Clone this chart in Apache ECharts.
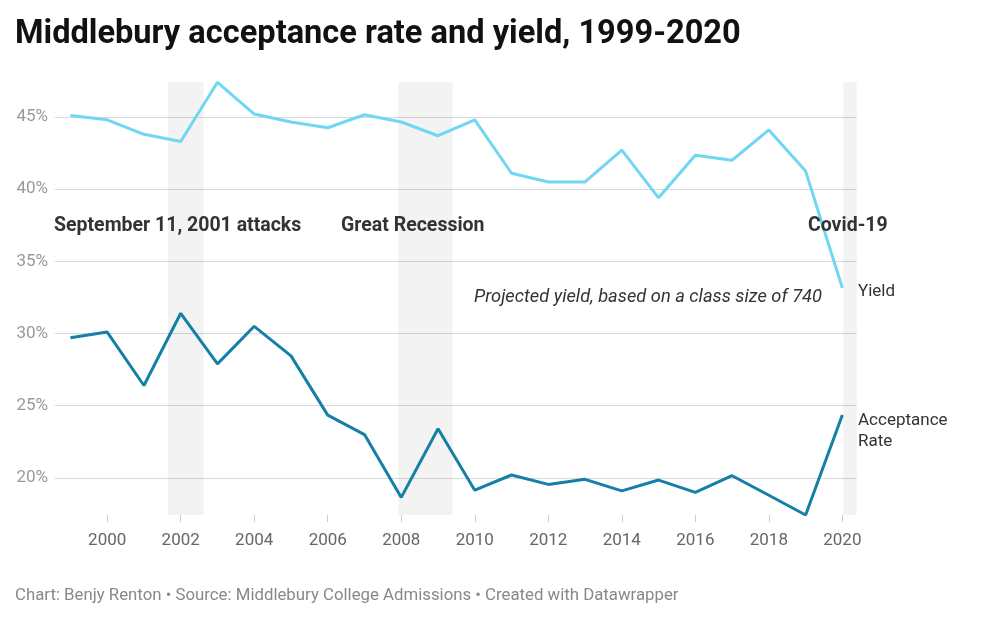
<!DOCTYPE html>
<html>
<head>
<meta charset="utf-8">
<script src="https://cdn.jsdelivr.net/npm/echarts@6/dist/echarts.min.js"></script>
<style>
  html, body { margin: 0; padding: 0; background: #ffffff; }
  #chart { width: 1000px; height: 627px; }
</style>
</head>
<body>
<div id="chart"></div>
<script>
const years = [1999,2000,2001,2002,2003,2004,2005,2006,2007,2008,2009,2010,2011,2012,2013,2014,2015,2016,2017,2018,2019,2020];
const yieldRate = [45.1,44.8,43.8,43.3,47.4,45.2,44.65,44.25,45.15,44.65,43.7,44.8,41.1,40.5,40.5,42.7,39.4,42.35,42.0,44.1,41.25,33.15];
const acceptanceRate = [29.7,30.1,26.4,31.4,27.9,30.5,28.45,24.35,23.0,18.65,23.4,19.15,20.2,19.55,19.9,19.1,19.85,19.0,20.15,18.8,17.43,24.35];
const xTicks = [2000,2002,2004,2006,2008,2010,2012,2014,2016,2018,2020];
const yTicks = [20,25,30,35,40,45];
const events = [
  { name: 'September 11, 2001 attacks', start: 2001.65, end: 2002.62 },
  { name: 'Great Recession', start: 2007.92, end: 2009.4 },
  { name: 'Covid-19', start: 2020.02, end: 2020.39 }
];

const chart = echarts.init(document.getElementById('chart'));
const pair = (arr) => years.map((y, i) => [y, arr[i]]);

const option = {
  backgroundColor: '#ffffff',
  animation: false,
  grid: { left: 55, right: 143.3, top: 82.3, bottom: 112 },
  xAxis: {
    type: 'value',
    min: 1998.58,
    max: 2020.39,
    axisLine: { show: false },
    axisTick: { show: true, customValues: xTicks, length: 7, lineStyle: { color: '#cccccc', width: 1 } },
    axisLabel: { customValues: xTicks, color: '#666666', fontFamily: 'Roboto', fontSize: 17, margin: 17, formatter: v => String(v) },
    splitLine: { show: false }
  },
  yAxis: {
    type: 'value',
    min: 'dataMin',
    max: 'dataMax',
    axisLine: { show: false },
    axisTick: { show: false, customValues: yTicks },
    axisLabel: { customValues: yTicks, color: '#999999', fontFamily: 'Roboto', fontSize: 17, margin: 7, formatter: v => v + '%' },
    splitLine: { show: true, lineStyle: { color: '#d9d9d9', width: 1 } }
  },
  series: [
    {
      name: 'bands',
      type: 'line',
      data: pair(yieldRate),
      symbol: 'none',
      lineStyle: { opacity: 0 },
      silent: true,
      z: 1,
      markArea: {
        silent: true,
        itemStyle: { color: 'rgba(0,0,0,0.048)' },
        data: events.map(e => [{ xAxis: e.start }, { xAxis: e.end }])
      }
    },
    {
      name: 'Yield',
      type: 'line',
      data: pair(yieldRate),
      symbol: 'none',
      lineStyle: { color: '#70d7f3', width: 3 },
      z: 6
    },
    {
      name: 'Acceptance Rate',
      type: 'line',
      data: pair(acceptanceRate),
      symbol: 'none',
      lineStyle: { color: '#1480a6', width: 3 },
      z: 6
    }
  ],
  graphic: [
    { type: 'text', z: 10, left: 15, top: 18, style: { text: 'Middlebury acceptance rate and yield, 1999-2020', font: 'bold 32.6px Roboto', fill: '#111111' } },
    { type: 'text', z: 10, left: 54, top: 216, style: { text: 'September 11, 2001 attacks', font: 'bold 19.5px Roboto', fill: '#333333' } },
    { type: 'text', z: 10, left: 341, top: 216, style: { text: 'Great Recession', font: 'bold 19.5px Roboto', fill: '#333333' } },
    { type: 'text', z: 10, left: 808, top: 216, style: { text: 'Covid-19', font: 'bold 19.5px Roboto', fill: '#333333' } },
    { type: 'text', z: 10, left: 474, top: 288, style: { text: 'Projected yield, based on a class size of 740', font: 'italic 18.3px Roboto', fill: '#333333' } },
    { type: 'text', z: 10, left: 858, top: 283, style: { text: 'Yield', font: '17px Roboto', fill: '#333333' } },
    { type: 'text', z: 10, left: 858, top: 410, style: { text: 'Acceptance\nRate', font: '17px Roboto', fill: '#333333', lineHeight: 21 } },
    { type: 'text', z: 10, left: 15, top: 587, style: { text: 'Chart: Benjy Renton \u2022 Source: Middlebury College Admissions \u2022 Created with Datawrapper', font: '16.8px Roboto', fill: '#888888' } }
  ]
};
chart.setOption(option);
</script>
</body>
</html>
